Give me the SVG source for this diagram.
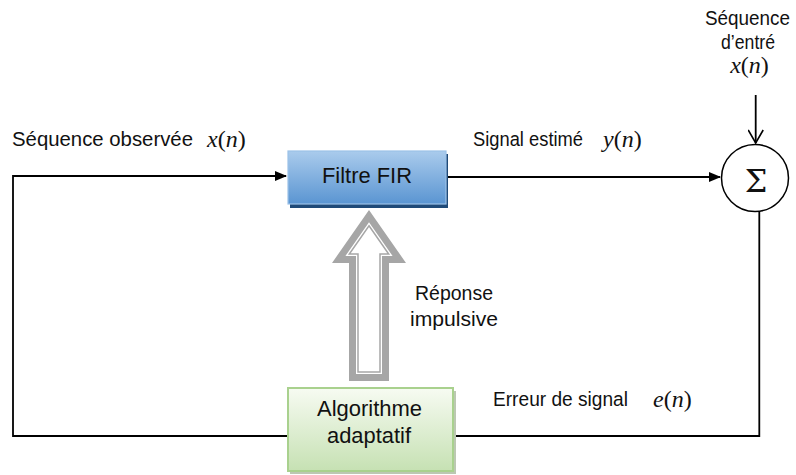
<svg xmlns="http://www.w3.org/2000/svg" width="796" height="475" viewBox="0 0 796 475">
  <style>
    .lbl { font-family: "Liberation Sans", Arial, sans-serif; font-size: 20.5px; fill: #111; }
    .box { font-size: 22.5px; }
    .math { font-family: "Liberation Serif", "Times New Roman", serif; font-size: 24px; fill: #111; }
    .mi { font-style: italic; }
    .wire { fill: none; stroke: #000; stroke-width: 1.8; }
  </style>
  <defs>
    <linearGradient id="blueFill" x1="0" y1="0" x2="0" y2="1">
      <stop offset="0" stop-color="#aacbec"/>
      <stop offset="1" stop-color="#5a95d2"/>
    </linearGradient>
    <linearGradient id="greenFill" x1="0" y1="0" x2="0" y2="1">
      <stop offset="0" stop-color="#f7fbf2"/>
      <stop offset="1" stop-color="#c6e1b3"/>
    </linearGradient>
    <marker id="solidHead" markerWidth="12" markerHeight="10" refX="11" refY="5" orient="auto" markerUnits="userSpaceOnUse">
      <path d="M0,0 L12,5 L0,10 Z" fill="#000"/>
    </marker>
    <marker id="openHead" markerWidth="18" markerHeight="16" refX="8" refY="15" orient="0" markerUnits="userSpaceOnUse">
      <path d="M0.5,2 L8,15 L15.5,2" fill="none" stroke="#000" stroke-width="1.6"/>
    </marker>
  </defs>

  <rect width="796" height="475" fill="#fff"/>

  <!-- connectors -->
  <g id="connectors">
    <!-- feedback loop from the adaptive block back to the filter input -->
    <polyline class="wire" points="287,436 13,436 13,176 286,176" marker-end="url(#solidHead)"/>
    <!-- filter output to summing junction -->
    <line class="wire" x1="446" y1="177" x2="720" y2="177" marker-end="url(#solidHead)"/>
    <!-- input sequence into summing junction -->
    <line class="wire" x1="755.7" y1="95" x2="755.7" y2="143" marker-end="url(#openHead)"/>
    <!-- error signal back to the adaptive block -->
    <polyline class="wire" points="759.3,211 759.3,436 453,436"/>
    <!-- hollow arrow: impulse response update -->
    <g id="impulse-arrow">
      <polygon points="369,210 406,263 389,263 389,381 349,381 349,263 332,263" fill="#a6a6a6"/>
      <polygon points="369,222.3 392.6,256 382,256 382,374 356,374 356,256 345.4,256" fill="#fff"/>
      <polygon points="369,225.8 388.7,254 380,254 380,372 358,372 358,254 349.3,254" fill="#fff" stroke="#a6a6a6" stroke-width="1.5"/>
    </g>
  </g>

  <!-- FIR filter block -->
  <g id="fir-filter">
    <rect x="290" y="154" width="158" height="54" fill="#1f4a78"/>
    <rect x="288" y="151" width="158" height="53" fill="url(#blueFill)" stroke="#9cc2e8" stroke-width="1.2"/>
    <text class="lbl box" x="322" y="183" textLength="90" lengthAdjust="spacingAndGlyphs">Filtre FIR</text>
  </g>

  <!-- adaptive algorithm block -->
  <g id="adaptive-algorithm">
    <rect x="290" y="391" width="166" height="83" fill="#bcc8b2"/>
    <rect x="288" y="388" width="165" height="83" fill="url(#greenFill)" stroke="#a9d18e" stroke-width="2"/>
    <text class="lbl box" x="317" y="416" textLength="105" lengthAdjust="spacingAndGlyphs">Algorithme</text>
    <text class="lbl box" x="327" y="443" textLength="84" lengthAdjust="spacingAndGlyphs">adaptatif</text>
  </g>

  <!-- summing junction -->
  <g id="sum">
    <circle cx="755" cy="178" r="33.5" fill="#fff" stroke="#000" stroke-width="1.5"/>
    <text x="756" y="192" text-anchor="middle" font-family="'DejaVu Serif', 'Liberation Serif', serif" font-size="32" fill="#111">Σ</text>
  </g>

  <!-- labels -->
  <g id="label-observed">
    <text class="lbl" x="12" y="146" textLength="181" lengthAdjust="spacingAndGlyphs">Séquence observée</text>
    <text class="math" x="207" y="147"><tspan class="mi">x</tspan>(<tspan class="mi">n</tspan>)</text>
  </g>
  <g id="label-estimated">
    <text class="lbl" x="473" y="146" textLength="110" lengthAdjust="spacingAndGlyphs">Signal estimé</text>
    <text class="math" x="603" y="147"><tspan class="mi">y</tspan>(<tspan class="mi">n</tspan>)</text>
  </g>
  <g id="label-input">
    <text class="lbl" x="705" y="25" textLength="85" lengthAdjust="spacingAndGlyphs">Séquence</text>
    <text class="lbl" x="721" y="49" textLength="54" lengthAdjust="spacingAndGlyphs">d’entré</text>
    <text class="math" x="749.5" y="73" text-anchor="middle"><tspan class="mi">x</tspan>(<tspan class="mi">n</tspan>)</text>
  </g>
  <g id="label-response">
    <text class="lbl" x="415" y="300" textLength="78" lengthAdjust="spacingAndGlyphs">Réponse</text>
    <text class="lbl" x="410" y="326" textLength="88" lengthAdjust="spacingAndGlyphs">impulsive</text>
  </g>
  <g id="label-error">
    <text class="lbl" x="493" y="406" textLength="135" lengthAdjust="spacingAndGlyphs">Erreur de signal</text>
    <text class="math" x="653" y="407"><tspan class="mi">e</tspan>(<tspan class="mi">n</tspan>)</text>
  </g>
</svg>
